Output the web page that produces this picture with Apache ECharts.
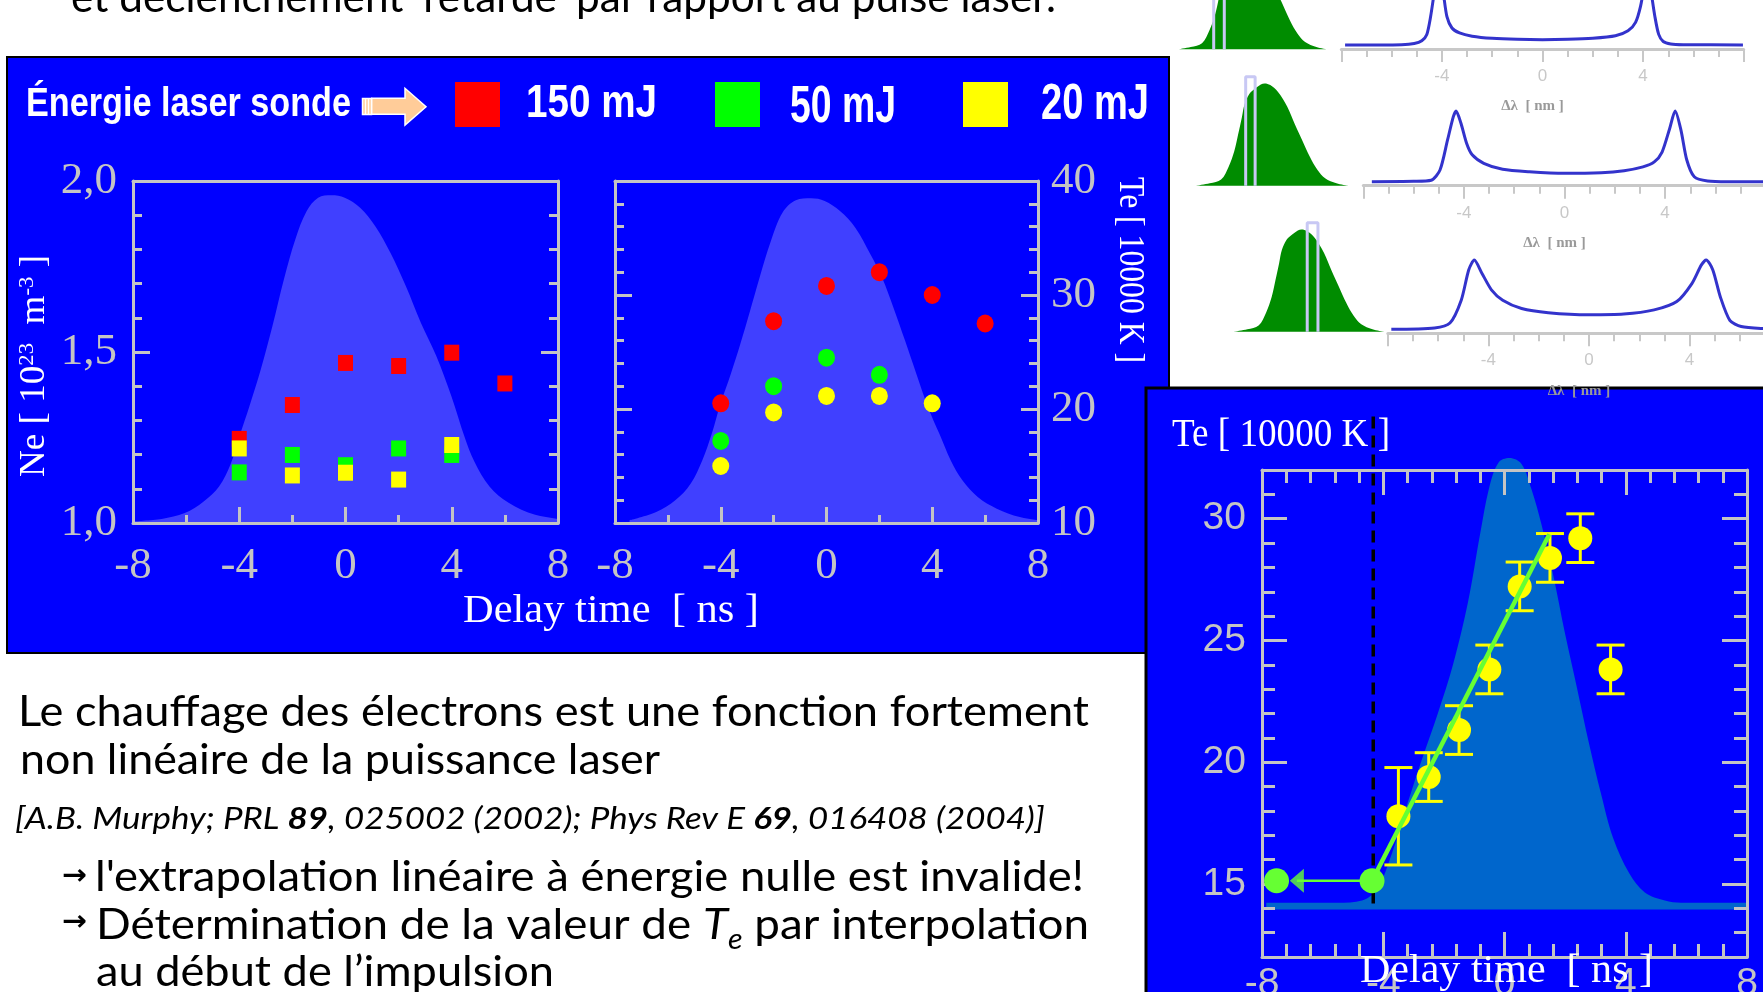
<!DOCTYPE html>
<html><head><meta charset="utf-8">
<script src="https://cdn.jsdelivr.net/npm/echarts@6/dist/echarts.min.js"></script>
<style>html,body{margin:0;padding:0;background:#fff;overflow:hidden}#c{width:1763px;height:992px}</style>
</head><body><div id="c"></div>
<script>
// ================= DATA =================
const delayTicks = [-8, -4, 0, 4, 8];
const neTicks = [1.0, 1.5, 2.0];
const teTicks = [10, 20, 30, 40];
const te3Ticks = [15, 20, 25, 30];
const specLabelTicks = [-4, 0, 4];

const energyLabels = ['150 mJ', '50 mJ', '20 mJ'];
const energyColors = ['#ff0000', '#00ff00', '#ffff00'];

// Ne [1e23 m-3] vs delay [ns]
const neDelay150 = [-4, -2, 0, 2, 4, 6];
const ne150 = [1.246, 1.345, 1.468, 1.459, 1.498, 1.408];
const neDelay50 = [-4, -2, 0, 2, 4];
const ne50 = [1.148, 1.199, 1.169, 1.218, 1.199];
const neDelay20 = [-4, -2, 0, 2, 4];
const ne20 = [1.218, 1.139, 1.147, 1.127, 1.228];

// Te [10000 K] vs delay [ns]
const teDelay150 = [-4, -2, 0, 2, 4, 6];
const te150 = [20.5, 27.7, 30.8, 32.0, 30.0, 27.5];
const teDelay50 = [-4, -2, 0, 2];
const te50 = [17.2, 22.0, 24.5, 23.0];
const teDelay20 = [-4, -2, 0, 2, 4];
const te20 = [15.0, 19.7, 21.15, 21.15, 20.5];

// laser pulse silhouettes (delay ns, axis value)
const pulseNe = [[-7.99,1.005],[-6.92,1.012],[-6.05,1.029],[-5.34,1.063],[-4.76,1.107],[-4.33,1.171],[-3.97,1.259],[-3.62,1.341],[-3.19,1.449],[-2.75,1.576],[-2.32,1.712],[-1.89,1.829],[-1.46,1.912],[-1.03,1.951],[-0.53,1.958],[-0.03,1.951],[0.55,1.922],[1.12,1.868],[1.69,1.79],[2.27,1.693],[2.84,1.585],[3.41,1.49],[3.99,1.37],[4.49,1.25],[4.85,1.18],[5.42,1.107],[6.14,1.059],[7.14,1.024],[8.72,1.005]];
const pulseTe = [[-7.45,10.24],[-6.44,10.97],[-5.72,11.99],[-5.14,13.45],[-4.7,15.49],[-4.34,17.82],[-4.01,20.45],[-3.62,23.08],[-3.26,25.7],[-2.89,28.62],[-2.53,31.54],[-2.1,34.75],[-1.66,37.23],[-1.16,38.31],[-0.58,38.48],[-0.07,38.25],[0.51,37.37],[1.09,35.91],[1.66,33.58],[2.1,31.54],[2.53,28.91],[2.97,26.0],[3.4,23.08],[3.84,20.16],[4.27,17.82],[4.7,15.49],[5.14,13.74],[5.72,12.28],[6.44,11.26],[7.31,10.53],[8.76,10.0]];

// bottom-right chart
const te3Delay = [-3.5, -2.5, -1.5, -0.5, 0.5, 1.5, 2.5, 3.5];
const te3 = [17.78, 19.39, 21.32, 23.81, 27.22, 28.39, 29.2, 23.81];
const te3Err = [2.0, 1.0, 1.0, 1.0, 1.0, 1.0, 1.0, 1.0];
const pulse3 = [[-7.86,14.23],[-5.5,14.23],[-4.7,14.32],[-4.2,14.8],[-3.7,16.3],[-3.2,18.3],[-2.7,20.2],[-2.2,22.0],[-1.7,24.0],[-1.2,26.6],[-0.8,29.4],[-0.5,31.3],[-0.2,32.3],[0.16,32.49],[0.56,32.25],[0.89,31.21],[1.22,29.76],[1.61,27.67],[2.0,25.26],[2.4,23.0],[2.79,20.76],[3.19,18.67],[3.58,16.9],[4.11,15.45],[4.63,14.65],[5.29,14.32],[5.82,14.23],[8.3,14.23]];
const pulse3Base = 13.95;
const fitLine = [[-4.37, 15.13], [1.48, 29.36]];
const extrapPoints = [[-7.52, 15.13], [-4.37, 15.13]];
const arrowLine = [[-4.37, 15.13], [-6.85, 15.13]];
const onsetLine = [[-4.33, 34.2], [-4.33, 14.08]];

// top-right insets
const greenPulse = [[-8,0],[-6.6,0.023],[-5.4,0.06],[-4.6,0.186],[-4.0,0.34],[-3.6,0.5],[-3.2,0.67],[-2.9,0.8],[-2.4,0.9],[-1.8,0.95],[-1.2,0.99],[-0.8,1.0],[-0.2,0.984],[0.6,0.919],[1.6,0.772],[2.4,0.6],[3.2,0.44],[4.0,0.28],[4.8,0.153],[5.6,0.072],[6.8,0.023],[8,0]];
const probeWindows = [[-4.15, -3.02, 1.065], [-2.8, -1.8, 1.065], [-0.19, 0.96, 1.065]];
const spec1 = [[-7.85,0],[-5.6,0.005],[-5.1,0.02],[-4.8,0.06],[-4.6,0.15],[-4.45,0.4],[-4.3,0.75],[-4.13,1.1],[-3.95,0.75],[-3.8,0.4],[-3.6,0.24],[-3.3,0.17],[-2.8,0.125],[-2,0.095],[-1,0.08],[0,0.075],[1,0.08],[2,0.095],[2.9,0.13],[3.4,0.2],[3.7,0.32],[3.9,0.55],[4.05,0.85],[4.17,1.1],[4.32,0.75],[4.47,0.4],[4.62,0.15],[4.8,0.05],[5.1,0.015],[5.6,0.005],[7.97,0]];
const spec2 = [[-7.66,0],[-6,0.005],[-5.3,0.02],[-4.95,0.165],[-4.65,0.59],[-4.42,0.92],[-4.31,1.0],[-4.12,0.83],[-3.89,0.54],[-3.67,0.38],[-3.21,0.26],[-2.46,0.175],[-1.4,0.14],[0,0.118],[1.46,0.127],[2.37,0.156],[3.12,0.21],[3.57,0.28],[3.88,0.42],[4.18,0.75],[4.4,1.0],[4.63,0.73],[4.86,0.31],[5.16,0.07],[5.69,0.01],[6.5,0],[8,0]];
const spec3 = [[-7.86,0],[-6.14,0.02],[-5.53,0.09],[-5.08,0.42],[-4.78,0.86],[-4.56,1.0],[-4.26,0.81],[-3.88,0.57],[-3.43,0.42],[-2.68,0.3],[-1.62,0.24],[0,0.21],[1.38,0.22],[2.59,0.28],[3.49,0.4],[4.09,0.66],[4.47,0.93],[4.66,1.0],[4.92,0.86],[5.22,0.47],[5.6,0.13],[6.05,0.04],[6.92,0.01],[8,0]];

// ================= STYLE / LAYOUT =================
const BLUE = '#0000ff', GRAY = '#c4c4c4', SERIF = 'Liberation Serif', SANS = 'Liberation Sans';
const LIME = '#66ff33';
const zip = (xs, ys) => xs.map((x, i) => [x, ys[i]]);

const mctx = document.createElement('canvas').getContext('2d');
function fontStr(s) { return (s.italic ? 'italic ' : '') + (s.bold ? 'bold ' : '') + s.size + 'px "' + s.family + '"'; }
function measure(s) { mctx.font = fontStr(s); return mctx.measureText(s.t).width; }
function textRun(segs, x, baseline, targetW, color) {
  const w = segs.map(measure), tot = w.reduce((a, b) => a + b, 0);
  const k = targetW ? targetW / tot : 1;
  let cx = x; const out = [];
  segs.forEach((s, i) => {
    out.push({type: 'text', z: 10, silent: true, x: cx, y: baseline + (s.dy || 0) - 0.3 * s.size, scaleX: k,
      style: {text: s.t, fontSize: s.size, fontFamily: s.family, fontStyle: s.italic ? 'italic' : 'normal',
        fontWeight: s.bold ? 'bold' : 'normal', fill: color, align: 'left', verticalAlign: 'middle'}});
    cx += w[i] * k;
  });
  return out;
}
function centerText(t, size, family, cx, cy, targetLen, rotation, color, bold) {
  const k = targetLen / measure({t, size, family, bold});
  return {type: 'text', z: 10, silent: true, x: cx, y: cy, rotation: rotation || 0, scaleX: k,
    style: {text: t, fontSize: size, fontFamily: family, fontWeight: bold ? 'bold' : 'normal', fill: color, align: 'center', verticalAlign: 'middle'}};
}

// ---------- graphic ----------
const G = [];
G.push({type: 'rect', z: 0, silent: true, shape: {x: 7, y: 57, width: 1162, height: 596}, style: {fill: BLUE, stroke: '#000', lineWidth: 2}});
G.push({type: 'rect', z: 0.5, silent: true, shape: {x: 1146, y: 388, width: 650, height: 640}, style: {fill: BLUE, stroke: '#000', lineWidth: 3}});

// top cut sentence
G.push(...textRun([{t: 'et déclenchement ‘retardé’ par rapport au pulse laser.', size: 42, family: 'Lato'}], 71, 11.5, 985, '#000'));

// legend row
G.push(...textRun([{t: 'Énergie laser sonde', size: 41, family: SANS, bold: true}], 26, 117, 325, '#fff'));
G.push({type: 'rect', z: 10, silent: true, shape: {x: 362.5, y: 98.5, width: 9, height: 16}, style: {fill: '#ffcc99', stroke: '#fff', lineWidth: 1.5}});
G.push({type: 'line', z: 11, silent: true, shape: {x1: 365.5, y1: 99, x2: 365.5, y2: 114}, style: {stroke: '#fff', lineWidth: 1.5}});
G.push({type: 'line', z: 11, silent: true, shape: {x1: 368.5, y1: 99, x2: 368.5, y2: 114}, style: {stroke: '#fff', lineWidth: 1.5}});
G.push({type: 'polygon', z: 10, silent: true, shape: {points: [[371.7, 98.3], [405, 98.3], [405, 88.3], [426, 106.7], [405, 125], [405, 114.3], [371.7, 114.3]]}, style: {fill: '#ffcc99', stroke: '#fff', lineWidth: 1.5}});
const legX = [455, 715, 963], legTextX = [526, 790, 1041], legW = [131, 106, 108], legSize = [47, 51, 50], legBase = [117.7, 123.3, 120];
energyLabels.forEach((lab, i) => {
  G.push({type: 'rect', z: 10, silent: true, shape: {x: legX[i], y: 82, width: 45, height: 45}, style: {fill: energyColors[i]}});
  G.push(...textRun([{t: lab, size: legSize[i], family: SANS, bold: true}], legTextX[i], legBase[i], legW[i], '#fff'));
});

// axis titles
{
  const segs = [{t: 'Ne [ 10', size: 36}, {t: '23', size: 22}, {t: '  m', size: 36}, {t: '-3', size: 22}, {t: ' ]', size: 36}];
  const tot = segs.reduce((a, s) => a + measure({t: s.t, size: s.size, family: SERIF}), 0);
  G.push({type: 'text', z: 10, silent: true, x: 34.5, y: 366, rotation: Math.PI / 2, scaleX: 222 / tot,
    style: {text: '{n|Ne [ 10}{s|23}{n|  m}{s|-3}{n| ]}', align: 'center', verticalAlign: 'middle',
      rich: {n: {fontSize: 36, fontFamily: SERIF, fill: '#fff', color: '#fff'}, s: {fontSize: 22, fontFamily: SERIF, fill: '#fff', color: '#fff', verticalAlign: 'top'}}}});
}
G.push(centerText('Te [ 10000 K ]', 35, SERIF, 1129, 270, 186, -Math.PI / 2, '#fff'));
G.push(centerText('Delay time  [ ns ]', 40, SERIF, 611, 611, 296, 0, '#fff'));
G.push(...textRun([{t: 'Te [ 10000 K ]', size: 39, family: SERIF}], 1172, 447.5, 218, '#fff'));
G.push(...textRun([{t: 'Delay time  [ ns ]', size: 40, family: SERIF}], 1360, 983, 293, '#fff'));

// body text
G.push(...textRun([{t: 'Le chauffage des électrons est une fonction fortement', size: 42, family: 'Lato'}], 18, 725, 1071, '#000'));
G.push(...textRun([{t: 'non linéaire de la puissance laser', size: 42, family: 'Lato'}], 20, 773, 640, '#000'));
G.push(...textRun([
  {t: '[A.B. Murphy; PRL ', size: 30, family: 'Lato', italic: true},
  {t: '89', size: 30, family: 'Lato', italic: true, bold: true},
  {t: ', 025002 (2002); Phys Rev E ', size: 30, family: 'Lato', italic: true},
  {t: '69', size: 30, family: 'Lato', italic: true, bold: true},
  {t: ', 016408 (2004)]', size: 30, family: 'Lato', italic: true}], 15, 828, 1030, '#000'));
G.push(...textRun([{t: '→', size: 28, family: 'DejaVu Sans', bold: true}], 62, 885, 25, '#000'));
G.push(...textRun([{t: "l'extrapolation linéaire à énergie nulle est invalide!", size: 42, family: 'Lato'}], 95, 890, 989, '#000'));
G.push(...textRun([{t: '→', size: 28, family: 'DejaVu Sans', bold: true}], 62, 931, 25, '#000'));
G.push(...textRun([
  {t: 'Détermination de la valeur de ', size: 42, family: 'Lato'},
  {t: 'T', size: 42, family: 'Lato', italic: true},
  {t: 'e', size: 28, family: 'Lato', italic: true, dy: 10},
  {t: ' par interpolation', size: 42, family: 'Lato'}], 96, 938, 993, '#000'));
G.push(...textRun([{t: 'au début de l’impulsion', size: 42, family: 'Lato'}], 96, 985, 458, '#000'));

// ================= AXES =================
const line3 = {color: GRAY, width: 3};
function panelX(g, bottom) {
  return {gridIndex: g, type: 'value', position: bottom ? 'bottom' : 'top', min: -8, max: 8, interval: 4, z: 3,
    axisLine: {show: true, onZero: false, lineStyle: line3},
    axisTick: {show: bottom, inside: true, length: 16, lineStyle: line3},
    minorTick: {show: bottom, splitNumber: 2, length: 8, lineStyle: line3},
    axisLabel: {show: bottom, margin: 21, color: GRAY, fontFamily: SERIF, fontSize: 45, showMinLabel: true, showMaxLabel: true},
    splitLine: {show: false}};
}
function panelY(g, right, min, max, interval, labels, margin, fmt) {
  return {gridIndex: g, type: 'value', position: right ? 'right' : 'left', min, max, interval, z: 3,
    axisLine: {show: true, onZero: false, lineStyle: line3},
    axisTick: {show: true, inside: true, length: 17, lineStyle: line3},
    minorTick: {show: true, splitNumber: 5, length: 9, lineStyle: line3},
    axisLabel: {show: labels, margin, color: GRAY, fontFamily: SERIF, fontSize: 45, formatter: fmt},
    splitLine: {show: false}};
}
function c3X(bottom) {
  return {gridIndex: 2, type: 'value', position: bottom ? 'bottom' : 'top', min: -8, max: 8, interval: 4, z: 3,
    axisLine: {show: true, onZero: false, lineStyle: line3},
    axisTick: {show: true, inside: true, length: 25, lineStyle: line3},
    minorTick: {show: true, splitNumber: 5, length: 13, lineStyle: line3},
    axisLabel: {show: bottom, margin: 8, color: GRAY, fontFamily: SANS, fontSize: 39, showMinLabel: true, showMaxLabel: true},
    splitLine: {show: false}};
}
function c3Y(right, long) {
  const o = {gridIndex: 2, type: 'value', position: right ? 'right' : 'left', min: 12, max: 32, interval: 1, z: 3,
    axisLine: {show: !long, onZero: false, lineStyle: line3},
    axisTick: {show: true, inside: true, length: long ? 25 : 13, lineStyle: line3},
    axisLabel: {show: false}, splitLine: {show: false}};
  if (long) {
    o.axisTick.customValues = te3Ticks;
    o.axisLabel = {show: !right, customValues: te3Ticks, margin: 16, color: GRAY, fontFamily: SANS, fontSize: 39};
  }
  return o;
}
function hiddenAx(g, min, max) { return {gridIndex: g, type: 'value', min, max, show: false}; }
function specX(g) {
  const c = '#c8c8c8';
  return {gridIndex: g, type: 'value', position: 'bottom', min: -8, max: 8, interval: 4, offset: 4, z: 3,
    axisLine: {show: true, onZero: false, lineStyle: {color: c, width: 3}},
    axisTick: {show: true, inside: false, length: 13, lineStyle: {color: c, width: 2}},
    minorTick: {show: true, splitNumber: 4, length: 8, lineStyle: {color: c, width: 2}},
    axisLabel: {margin: 19, color: c, fontFamily: SANS, fontSize: 17,
      formatter: v => specLabelTicks.includes(v) ? String(v) : ''},
    name: 'Δλ  [ nm ]', nameLocation: 'middle', nameGap: 50,
    nameTextStyle: {fontFamily: SERIF, fontWeight: 'bold', fontSize: 15, color: '#9a9a9a', padding: [0, 20, 0, 0]},
    splitLine: {show: false}};
}

const neFmt = v => neTicks.includes(Math.round(v * 10) / 10) ? v.toFixed(1).replace('.', ',') : '';
const teFmt = v => teTicks.includes(v) ? String(v) : '';

const xAxis = [
  panelX(0, true), panelX(0, false), panelX(1, true), panelX(1, false),
  c3X(true), c3X(false),
  hiddenAx(3, -8, 8), hiddenAx(4, -8, 8), hiddenAx(5, -8, 8),
  specX(6), specX(7), specX(8)
];
const yAxis = [
  panelY(0, false, 1, 2, 0.5, true, 16, neFmt), panelY(0, true, 1, 2, 0.5, false, 16, neFmt),
  panelY(1, false, 10, 40, 10, false, 13, teFmt), panelY(1, true, 10, 40, 10, true, 13, teFmt),
  c3Y(false, false), c3Y(false, true), c3Y(true, false), c3Y(true, true),
  hiddenAx(3, 0, 1), hiddenAx(4, 0, 1), hiddenAx(5, 0, 1),
  hiddenAx(6, 0, 1), hiddenAx(7, 0, 1), hiddenAx(8, 0, 1)
];

const gridBoxes = [
  [133, 181, 425, 342],
  [615, 181, 423, 342],
  [1262, 470, 485, 487],
  [1177.6, -53, 150, 102.3],
  [1196.5, 83.4, 151.3, 102.3],
  [1234.3, 229.4, 149.4, 102.3],
  [1341.3, -25.7, 402.4, 70.7],
  [1363.3, 111, 402.4, 70.7],
  [1387.8, 260, 402.4, 69.3]
];
const grid = gridBoxes.map(([left, top, width, height]) => ({left, top, width, height, containLabel: false, outerBoundsMode: 'none'}));

// ================= SERIES =================
const series = [];
const area = (xi, yi, data, color, origin, z) => ({type: 'line', xAxisIndex: xi, yAxisIndex: yi, data, smooth: 0.35,
  symbol: 'none', clip: false, silent: true, z: z || 2, lineStyle: {width: 0}, areaStyle: {color, opacity: 1, origin}});
series.push(area(0, 0, pulseNe, '#4040ff', 'start'));
series.push(area(2, 2, pulseTe, '#4040ff', 'start'));
const scat = (xi, yi, data, color, symbol, size, z) => ({type: 'scatter', xAxisIndex: xi, yAxisIndex: yi, data, symbol, symbolSize: size,
  itemStyle: {color, opacity: 1}, z: z || 4, silent: true});
series.push(scat(0, 0, zip(neDelay150, ne150), energyColors[0], 'rect', [15, 16]));
series.push(scat(0, 0, zip(neDelay50, ne50), energyColors[1], 'rect', [15, 16]));
series.push(scat(0, 0, zip(neDelay20, ne20), energyColors[2], 'rect', [15, 16]));
series.push(scat(2, 2, zip(teDelay150, te150), energyColors[0], 'circle', [17, 18]));
series.push(scat(2, 2, zip(teDelay50, te50), energyColors[1], 'circle', [17, 18]));
series.push(scat(2, 2, zip(teDelay20, te20), energyColors[2], 'circle', [17, 18]));

// bottom-right chart
series.push(area(4, 4, pulse3, '#0066cc', pulse3Base, 2));
series.push({type: 'line', xAxisIndex: 4, yAxisIndex: 4, data: onsetLine, symbol: 'none', clip: false, silent: true, z: 4,
  lineStyle: {color: '#000', width: 3.5, type: [12, 7]}});
series.push({type: 'custom', xAxisIndex: 4, yAxisIndex: 4, z: 5, silent: true,
  data: te3Delay.map((d, i) => [d, te3[i], te3Err[i]]),
  renderItem: (params, api) => {
    const x = api.value(0), y = api.value(1), e = api.value(2);
    const t = api.coord([x, y + e]), b = api.coord([x, y - e]), hw = 14;
    const st = {stroke: '#ffff00', lineWidth: 3};
    return {type: 'group', children: [
      {type: 'line', shape: {x1: t[0], y1: t[1], x2: b[0], y2: b[1]}, style: st},
      {type: 'line', shape: {x1: t[0] - hw, y1: t[1], x2: t[0] + hw, y2: t[1]}, style: st},
      {type: 'line', shape: {x1: b[0] - hw, y1: b[1], x2: b[0] + hw, y2: b[1]}, style: st}]};
  }});
series.push(scat(4, 4, zip(te3Delay, te3), '#ffff00', 'circle', 24, 5));
series.push({type: 'line', xAxisIndex: 4, yAxisIndex: 4, data: fitLine, symbol: 'none', clip: false, silent: true, z: 6,
  lineStyle: {color: LIME, width: 4.5}});
series.push({type: 'line', xAxisIndex: 4, yAxisIndex: 4, data: arrowLine, symbol: 'none', clip: false, silent: true, z: 6,
  lineStyle: {color: LIME, width: 2.5}});
series.push({type: 'scatter', xAxisIndex: 4, yAxisIndex: 4, data: [arrowLine[1]], symbol: 'triangle', symbolSize: [24, 14], symbolRotate: 90,
  itemStyle: {color: LIME}, z: 6, silent: true, clip: false});
series.push(scat(4, 4, extrapPoints, LIME, 'circle', 25, 7));

// insets
[0, 1, 2].forEach(r => {
  series.push(area(6 + r, 8 + r, greenPulse, '#008c00', 'start', 2));
  const [a, b, top] = probeWindows[r];
  series.push({type: 'line', xAxisIndex: 6 + r, yAxisIndex: 8 + r, data: [[a, 0], [a, top], [b, top], [b, 0]], symbol: 'none',
    clip: false, silent: true, z: 3, lineStyle: {color: '#c8c8f4', width: 3}});
});
[spec1, spec2, spec3].forEach((s, r) => {
  series.push({type: 'line', xAxisIndex: 9 + r, yAxisIndex: 11 + r, data: s, smooth: 0.25, symbol: 'none', clip: false,
    silent: true, z: 4, lineStyle: {color: '#3333cc', width: 3}});
});

const chart = echarts.init(document.getElementById('c'), null, {renderer: 'canvas', width: 1763, height: 992});
chart.setOption({animation: false, backgroundColor: '#ffffff', graphic: {elements: G}, grid, xAxis, yAxis, series});
</script></body></html>
